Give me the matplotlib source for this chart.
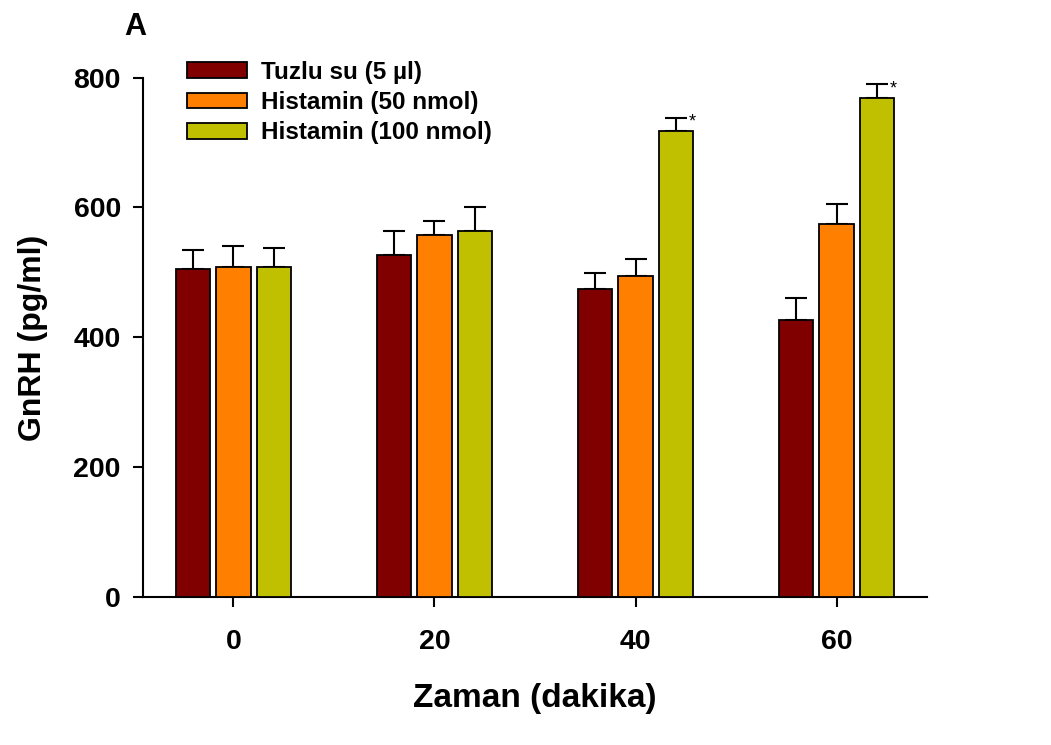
import matplotlib.pyplot as plt
import numpy as np

plt.rcParams['font.family'] = ['Liberation Sans', 'DejaVu Sans']
plt.rcParams['font.weight'] = 'bold'

times = [0, 20, 40, 60]
groups = ["Tuzlu su (5 µl)", "Histamin (50 nmol)", "Histamin (100 nmol)"]
colors = ["#800000", "#FF8000", "#C0C000"]

saline = [505, 527, 475, 427]
hist50 = [509, 557, 494, 575]
hist100 = [509, 564, 718, 768]

saline_err = [29, 36, 24, 33]
hist50_err = [31, 22, 27, 30]
hist100_err = [28, 36, 20, 22]

star_idx = [2, 3]  # time points with * on 100 nmol

fig = plt.figure(figsize=(10.51, 7.45), dpi=100)
ax = fig.add_axes([143/1051, 1-597.3/745, (927-143)/1051, (597.3-77.5)/745])

x = np.array(times, dtype=float)
w = 3.4
off = 4.0
vals = [saline, hist50, hist100]
errs = [saline_err, hist50_err, hist100_err]
for i in range(3):
    pos = x + (i-1)*off
    ax.bar(pos, vals[i], w, color=colors[i], edgecolor='black', linewidth=1.3,
           label=groups[i], zorder=3)
    ax.errorbar(pos, vals[i], yerr=[np.zeros(4), errs[i]], fmt='none',
                ecolor='black', elinewidth=1.5, capsize=8, capthick=1.5, zorder=2)

for j in star_idx:
    ax.text(x[j] + off + 1.6, hist100[j] + hist100_err[j] - 7, '*', fontsize=13,
            ha='center', va='center', fontweight='normal')

ax.set_xlim(-9, 69)
ax.set_ylim(0, 800)
ax.set_xticks(times)
ax.set_yticks([0, 200, 400, 600, 800])
ax.spines['top'].set_visible(False)
ax.spines['right'].set_visible(False)
ax.spines['left'].set_linewidth(1.5)
ax.spines['bottom'].set_linewidth(1.5)
ax.tick_params(axis='both', direction='out', length=7, width=1.5, labelsize=20.5)
ax.tick_params(axis='x', pad=16)
ax.tick_params(axis='y', pad=9)
for lab in ax.get_xticklabels() + ax.get_yticklabels():
    lab.set_fontweight('bold')

ax.set_xlabel("Zaman (dakika)", fontsize=24, fontweight='bold', labelpad=20)
ax.set_ylabel("GnRH (pg/ml)", fontsize=23, fontweight='bold', labelpad=18)

fig.text(124/1051, 1-27/745, "A", fontsize=22, fontweight='bold', ha='left', va='center')

leg = ax.legend(loc='upper left', bbox_to_anchor=(44/784, 1.032), frameon=False,
                fontsize=17.5, handlelength=2.45, handleheight=0.62, labelspacing=0.30,
                handletextpad=0.6, borderaxespad=0, borderpad=0)
for t in leg.get_texts():
    t.set_fontweight('bold')

fig.savefig("out.png", dpi=100)
